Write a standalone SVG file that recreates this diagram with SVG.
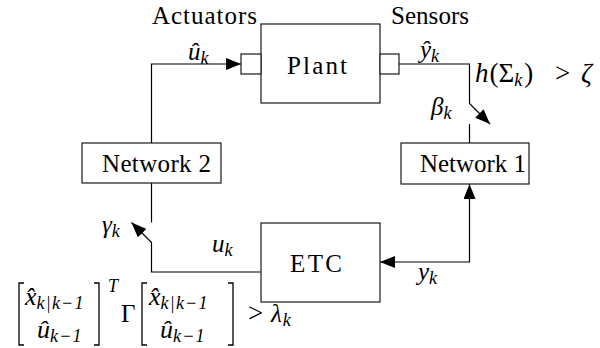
<svg xmlns="http://www.w3.org/2000/svg" width="600" height="348" viewBox="0 0 600 348">
  <defs>
    <style>
      .box { fill: #fff; stroke: #1a1a1a; stroke-width: 1.2; }
      .wire { fill: none; stroke: #000; stroke-width: 1.2; }
      .brk { fill: none; stroke: #000; stroke-width: 1.3; }
      text { font-family: 'Liberation Serif', 'Times New Roman', serif; font-size: 25px; fill: #000; }
      .m { font-style: italic; }
      .sub { font-size: 18px; font-style: italic; }
      .ent { font-size: 26px; font-style: italic; }
      .esub { font-size: 18px; font-style: italic; letter-spacing: 1.2px; }
    </style>
    <marker id="arrow" viewBox="0 0 15 12" refX="15" refY="6" markerWidth="15" markerHeight="12" markerUnits="userSpaceOnUse" orient="auto-start-reverse">
      <path d="M0,0 L15,6 L0,12 Z" fill="#000"/>
    </marker>
  </defs>

  <!-- connectors -->
  <g id="connectors">
    <!-- Network 2 to actuators -->
    <path class="wire" d="M151.5,143 V64 H241" marker-end="url(#arrow)"/>
    <!-- sensors to Network 1 through the event switch -->
    <path class="wire" d="M399,64 H469.5 V103.5 L490,124" marker-end="url(#arrow)"/>
    <path class="wire" d="M469.5,124 V143"/>
    <!-- Network 1 to ETC -->
    <path class="wire" d="M380,262 H469.5 V184" marker-start="url(#arrow)" marker-end="url(#arrow)"/>
    <!-- ETC to Network 2 through the trigger switch -->
    <path class="wire" d="M261,272 H151.5 V242.5 L131.5,222.5" marker-end="url(#arrow)"/>
    <path class="wire" d="M151.5,222.5 V183"/>
  </g>

  <!-- nodes -->
  <g id="plant">
    <rect class="box" x="261" y="24" width="119" height="79"/>
    <text x="287" y="74" textLength="60">Plant</text>
  </g>
  <g id="actuator">
    <rect class="box" x="241" y="54" width="20" height="20"/>
  </g>
  <g id="sensor">
    <rect class="box" x="380" y="54" width="19" height="20"/>
  </g>
  <g id="network1">
    <rect class="box" x="401" y="143" width="128" height="41"/>
    <text x="420" y="172" textLength="106">Network 1</text>
  </g>
  <g id="network2">
    <rect class="box" x="82" y="143" width="139" height="40"/>
    <text x="102" y="172" textLength="109">Network 2</text>
  </g>
  <g id="etc">
    <rect class="box" x="261" y="223" width="119" height="79"/>
    <text x="290" y="272" textLength="52">ETC</text>
  </g>

  <!-- labels -->
  <g id="labels">
    <text x="152" y="24" textLength="105">Actuators</text>
    <text x="391" y="24" textLength="78">Sensors</text>
    <text class="m" x="188" y="60">û<tspan class="sub" dy="4">k</tspan></text>
    <text class="m" x="420" y="58">ŷ<tspan class="sub" dy="4">k</tspan></text>
    <text x="475" y="82" style="font-size:27px"><tspan class="m">h</tspan><tspan dx="1">(Σ</tspan><tspan class="sub" dy="4">k</tspan><tspan dx="2" dy="-4">)</tspan><tspan x="555">&gt;</tspan><tspan class="m" x="581">ζ</tspan></text>
    <text class="m" x="431" y="115">β<tspan class="sub" dy="4">k</tspan></text>
    <text class="m" x="102" y="233">γ<tspan class="sub" dy="4">k</tspan></text>
    <text class="m" x="212" y="252">u<tspan class="sub" dy="4">k</tspan></text>
    <text class="m" x="418" y="280">y<tspan class="sub" dy="4">k</tspan></text>
  </g>

  <!-- trigger condition -->
  <g id="condition">
    <polyline class="brk" points="24,283 19,283 19,345 24,345"/>
    <polyline class="brk" points="94,283 99,283 99,345 94,345"/>
    <text class="ent" x="25" y="305">x̂<tspan class="esub" dy="4">k|k−1</tspan></text>
    <text class="ent" x="37" y="338">û<tspan class="esub" dy="4">k−1</tspan></text>
    <text class="m" x="108" y="292" style="font-size:18px">T</text>
    <text x="121" y="322">Γ</text>
    <polyline class="brk" points="147,283 142,283 142,345 147,345"/>
    <polyline class="brk" points="228,283 233,283 233,345 228,345"/>
    <text class="ent" x="149" y="305">x̂<tspan class="esub" dy="4">k|k−1</tspan></text>
    <text class="ent" x="160" y="338">û<tspan class="esub" dy="4">k−1</tspan></text>
    <text x="248" y="322" style="font-size:27px">&gt;<tspan class="m" x="271" style="font-size:25px">λ</tspan><tspan class="sub" dx="1" dy="4">k</tspan></text>
  </g>
</svg>
